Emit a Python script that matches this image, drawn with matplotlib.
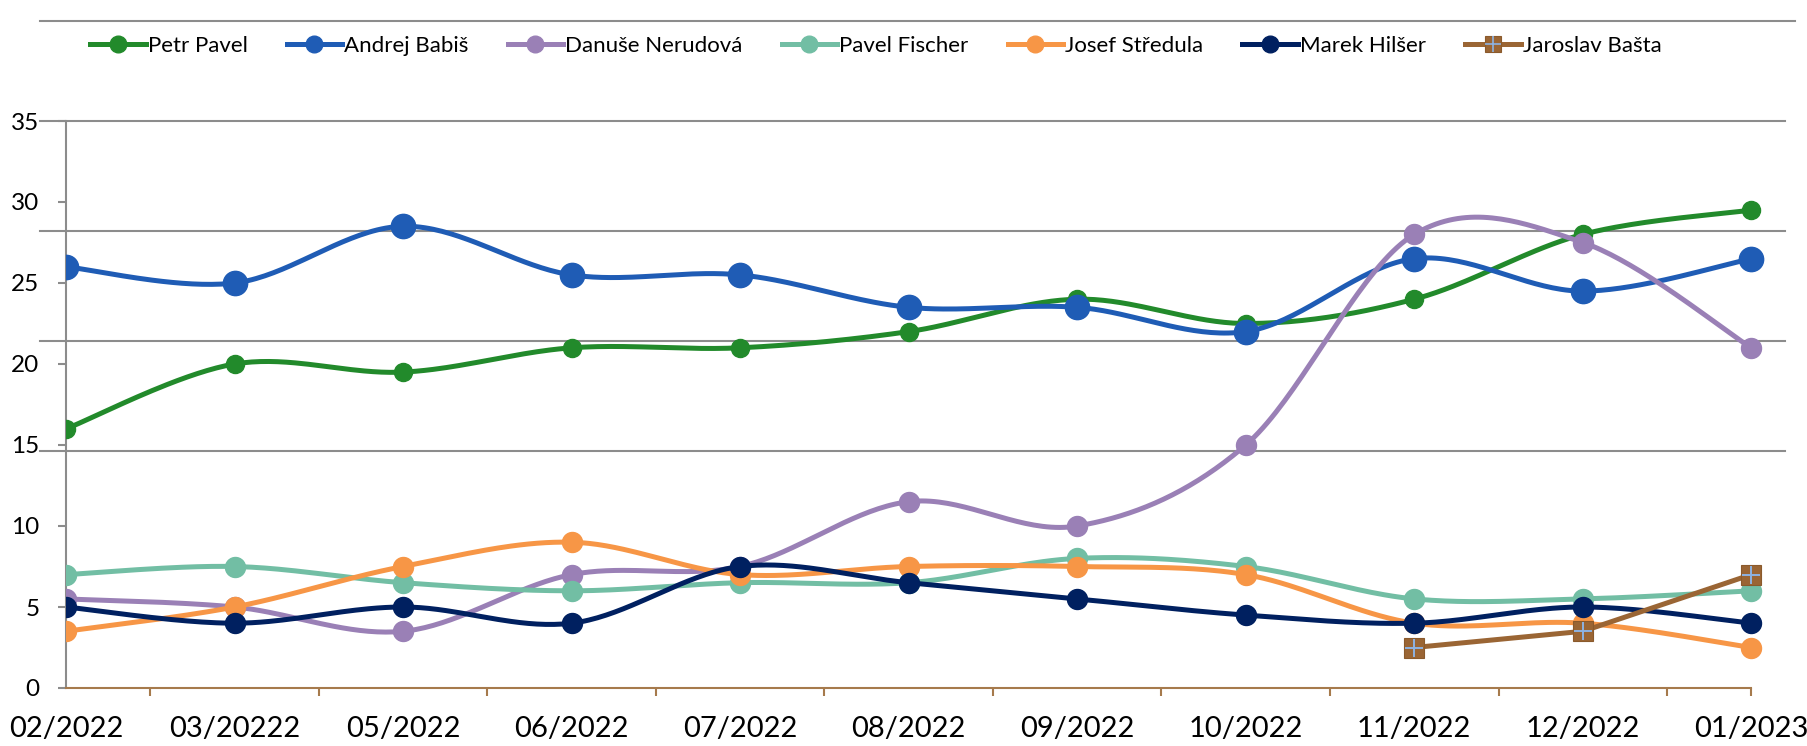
import numpy as np
import matplotlib
matplotlib.use("Agg")
import matplotlib.pyplot as plt
from matplotlib.lines import Line2D
from matplotlib.legend_handler import HandlerTuple

plt.rcParams['font.family'] = ['Lato', 'DejaVu Sans']

categories = ["02/2022", "03/20222", "05/2022", "06/2022", "07/2022", "08/2022",
              "09/2022", "10/2022", "11/2022", "12/2022", "01/2023"]

petr_pavel = [16, 20, 19.5, 21, 21, 22, 24, 22.5, 24, 28, 29.5]
andrej_babis = [26, 25, 28.5, 25.5, 25.5, 23.5, 23.5, 22, 26.5, 24.5, 26.5]
danuse_nerudova = [5.5, 5, 3.5, 7, 7.5, 11.5, 10, 15, 28, 27.5, 21]
pavel_fischer = [7, 7.5, 6.5, 6, 6.5, 6.5, 8, 7.5, 5.5, 5.5, 6]
josef_stredula = [3.5, 5, 7.5, 9, 7, 7.5, 7.5, 7, 4, 4, 2.5]
marek_hilser = [5, 4, 5, 4, 7.5, 6.5, 5.5, 4.5, 4, 5, 4]
jaroslav_basta = [None, None, None, None, None, None, None, None, 2.5, 3.5, 7]

names = ["Petr Pavel", "Andrej Babiš", "Danuše Nerudová", "Pavel Fischer",
         "Josef Středula", "Marek Hilšer", "Jaroslav Bašta"]
colors = ["#228a2b", "#1f5cb5", "#9a80b6", "#72bea4", "#f79646", "#002060", "#9a6534"]

gridline_values = [35, 28.2, 21.4, 14.65]


def excel_smooth(xs, ys, n=40):
    xs = np.asarray(xs, float)
    ys = np.asarray(ys, float)
    pts = np.column_stack([xs, ys])
    m = len(pts)
    out = []
    for i in range(m - 1):
        p0 = pts[i]
        p3 = pts[i + 1]
        pm = pts[i - 1] if i > 0 else pts[i]
        pp = pts[i + 2] if i + 2 < m else pts[i + 1]
        c1 = p0 + (p3 - pm) / 6.0
        c2 = p3 - (pp - p0) / 6.0
        t = np.linspace(0, 1, n)[:, None]
        seg = ((1 - t) ** 3) * p0 + 3 * ((1 - t) ** 2) * t * c1 + 3 * (1 - t) * t ** 2 * c2 + t ** 3 * p3
        out.append(seg if i == 0 else seg[1:])
    arr = np.vstack(out)
    return arr[:, 0], arr[:, 1]


W, H = 1808, 746
fig = plt.figure(figsize=(W / 100, H / 100), dpi=100)
x0, x1 = 66, 1785
y0, y1 = 688, 121
ax = fig.add_axes([x0 / W, 1 - y0 / H, (x1 - x0) / W, (y0 - y1) / H])
ax.set_xlim(0, 10.2)
ax.set_ylim(0, 35)

x = np.arange(len(categories))

# grid lines (Excel artefact positions)
for gv in gridline_values:
    ax.plot([-0.155, 10.2], [gv, gv], color="#8c8c8c", lw=1.5, zorder=1, clip_on=False)

# top line above legend
fig.add_artist(Line2D([40 / W, 1795 / W], [1 - 21 / H, 1 - 21 / H], color="#8c8c8c", lw=1.5))

series = [petr_pavel, andrej_babis, danuse_nerudova, pavel_fischer, josef_stredula, marek_hilser]
msizes = [13, 17.5, 14.4, 14.4, 14.4, 14.4]
handles = []
z = 3
for vals, col, ms, nm in zip(series, colors[:6], msizes, names[:6]):
    sx, sy = excel_smooth(x, vals)
    ax.plot(sx, sy, color=col, lw=3.6, zorder=z, solid_capstyle='round')
    ax.plot(x, vals, linestyle='none', marker='o', ms=ms, color=col, mec=col, zorder=z + 0.5)
    handles.append(Line2D([], [], color=col, lw=3.6, marker='o', ms=12, mec=col))
    z += 1

bx = [xi for xi, v in zip(x, jaroslav_basta) if v is not None]
bv = [v for v in jaroslav_basta if v is not None]
ax.plot(bx, bv, color=colors[6], lw=3.6, marker='s', ms=14, mec="#8a5a2c", mew=0.8, zorder=z)
ax.plot(bx, bv, linestyle='none', marker='+', ms=13, mew=1.4, color="#8db3e2", zorder=z + 0.5)
h1 = Line2D([], [], color=colors[6], lw=3.6, marker='s', ms=12, mec="#8a5a2c", mew=0.8)
h2 = Line2D([], [], linestyle='none', marker='+', ms=11, mew=1.2, color="#8db3e2")
handles.append((h1, h2))

# axes styling
for s in ['top', 'right']:
    ax.spines[s].set_visible(False)
ax.spines['left'].set_color("#8c8c8c")
ax.spines['left'].set_linewidth(1.5)
ax.spines['left'].set_bounds(0, 35)
ax.spines['bottom'].set_color("#a67a4c")
ax.spines['bottom'].set_linewidth(1.5)
ax.spines['bottom'].set_bounds(0, 10)

ax.set_yticks([0, 5, 10, 15, 20, 25, 30, 35])
ax.set_yticklabels([str(v) for v in [0, 5, 10, 15, 20, 25, 30, 35]])
ax.tick_params(axis='y', direction='out', length=6, width=1.5, color="#8c8c8c",
               labelsize=17.5, pad=13, labelcolor='black')

ax.xaxis.remove_overlapping_locs = False
ax.set_xticks(list(np.arange(0.5, 10, 1.0)) + [10])
ax.set_xticklabels([])
ax.tick_params(axis='x', which='major', direction='out', length=6, width=1.5, color="#a67a4c")
ax.set_xticks(x, minor=True)
ax.set_xticklabels(categories, minor=True)
ax.tick_params(axis='x', which='minor', length=0, labelsize=21, pad=20, labelcolor='black')

leg = fig.legend(handles, names, ncol=7, loc='center left',
                 bbox_to_anchor=(90 / W, 1 - 46 / H), frameon=False,
                 fontsize=16, handlelength=2.5, handletextpad=0.1, columnspacing=1.75,
                 borderaxespad=0, borderpad=0,
                 handler_map={tuple: HandlerTuple(ndivide=1, pad=0)})

fig.savefig("out.png", dpi=100)
